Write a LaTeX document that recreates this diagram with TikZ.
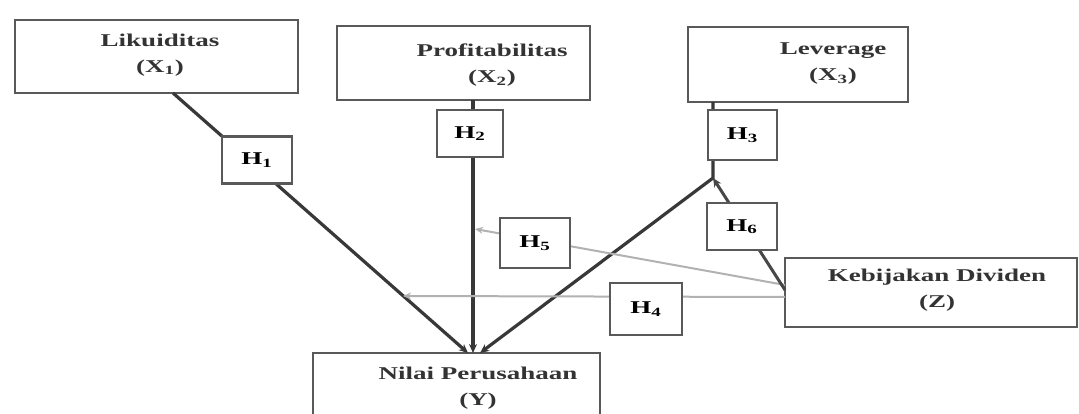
\documentclass[tikz,border=0pt]{standalone}
\usepackage{fontspec}
\setmainfont{Liberation Serif}
\usetikzlibrary{arrows.meta}
\newcommand{\wide}[1]{\scalebox{1.5}[1]{#1}}
\tikzset{
 box/.style={draw=black!65, line width=2.6pt, fill=white, inner sep=0pt},
 hbox/.style={draw=black!65, line width=2.6pt, fill=white, minimum width=70pt, minimum height=47pt, inner sep=0pt, font=\bfseries\fontsize{18}{20}\selectfont},
 txt/.style={align=center, font=\bfseries\fontsize{18}{26}\selectfont, text=black!80},
 main/.style={draw=black!78, line width=3.2pt, -{Stealth[length=9pt,width=8pt]}},
 mod/.style={draw=black!30, line width=2pt, -{Stealth[length=8pt,width=7pt]}},
 dmod/.style={draw=black!72, line width=3pt, -{Stealth[length=9pt,width=8pt]}},
}
\begin{document}
\begin{tikzpicture}[x=1pt,y=-1pt]
\useasboundingbox (0,0) rectangle (1079,414);
\fill[white] (0,0) rectangle (1079,414);
% boxes
\node[box, minimum width=283pt, minimum height=73pt] (X1) at (156.5,56.5) {};
\node[box, minimum width=253pt, minimum height=74pt] (X2) at (463.5,63) {};
\node[box, minimum width=220pt, minimum height=75pt] (X3) at (798,64.5) {};
\node[box, minimum width=292pt, minimum height=69pt] (Z) at (931,292.5) {};
\node[box, minimum width=287pt, minimum height=70pt] (Y) at (456.5,388) {};
% texts
\node[txt] (X1t) at (160,55) {\wide{Likuiditas}\\\wide{(X\textsubscript{1})}};
\node[txt] (X2t) at (492,65) {\wide{Profitabilitas}\\\wide{(X\textsubscript{2})}};
\node[txt] (X3t) at (833,64) {\wide{Leverage}\\\wide{(X\textsubscript{3})}};
\node[txt] (Zt) at (937,290) {\wide{Kebijakan Dividen}\\\wide{(Z)}};
\node[txt] (Yt) at (478,388) {\wide{Nilai Perusahaan}\\\wide{(Y)}};
% attach points
\coordinate (a1) at (173,93);
\coordinate (y1) at (468,353);
\coordinate (a2) at (473,100);
\coordinate (y2) at (473,353);
\coordinate (a3) at (713,102);
\coordinate (P) at (713,178);
\coordinate (y3) at (480,353);
\coordinate (z4) at (785,297);
\coordinate (q4) at (403,296);
\coordinate (z5) at (785,285);
\coordinate (q5) at (475,229);
\coordinate (z6) at (785,290);
% connectors
\draw[main] (a1) -- (y1);
\draw[main] (a2) -- (y2);
\draw[main] (a3) -- (P) -- (y3);
\draw[mod] (z4) -- (q4);
\draw[mod] (z5) -- (q5);
\draw[dmod] (z6) -- (P);
% hypothesis labels
\node[hbox] (H1) at (257,160) {\wide{H\textsubscript{1}}};
\node[hbox, minimum width=66pt] (H2) at (470,133.5) {\wide{H\textsubscript{2}}};
\node[hbox, minimum width=69pt, minimum height=50pt] (H3) at (742.5,135) {\wide{H\textsubscript{3}}};
\node[hbox, minimum width=72pt, minimum height=52pt] (H4) at (646,309) {\wide{H\textsubscript{4}}};
\node[hbox, minimum height=50pt] (H5) at (535,243) {\wide{H\textsubscript{5}}};
\node[hbox] (H6) at (742,226.5) {\wide{H\textsubscript{6}}};
\end{tikzpicture}
\end{document}
